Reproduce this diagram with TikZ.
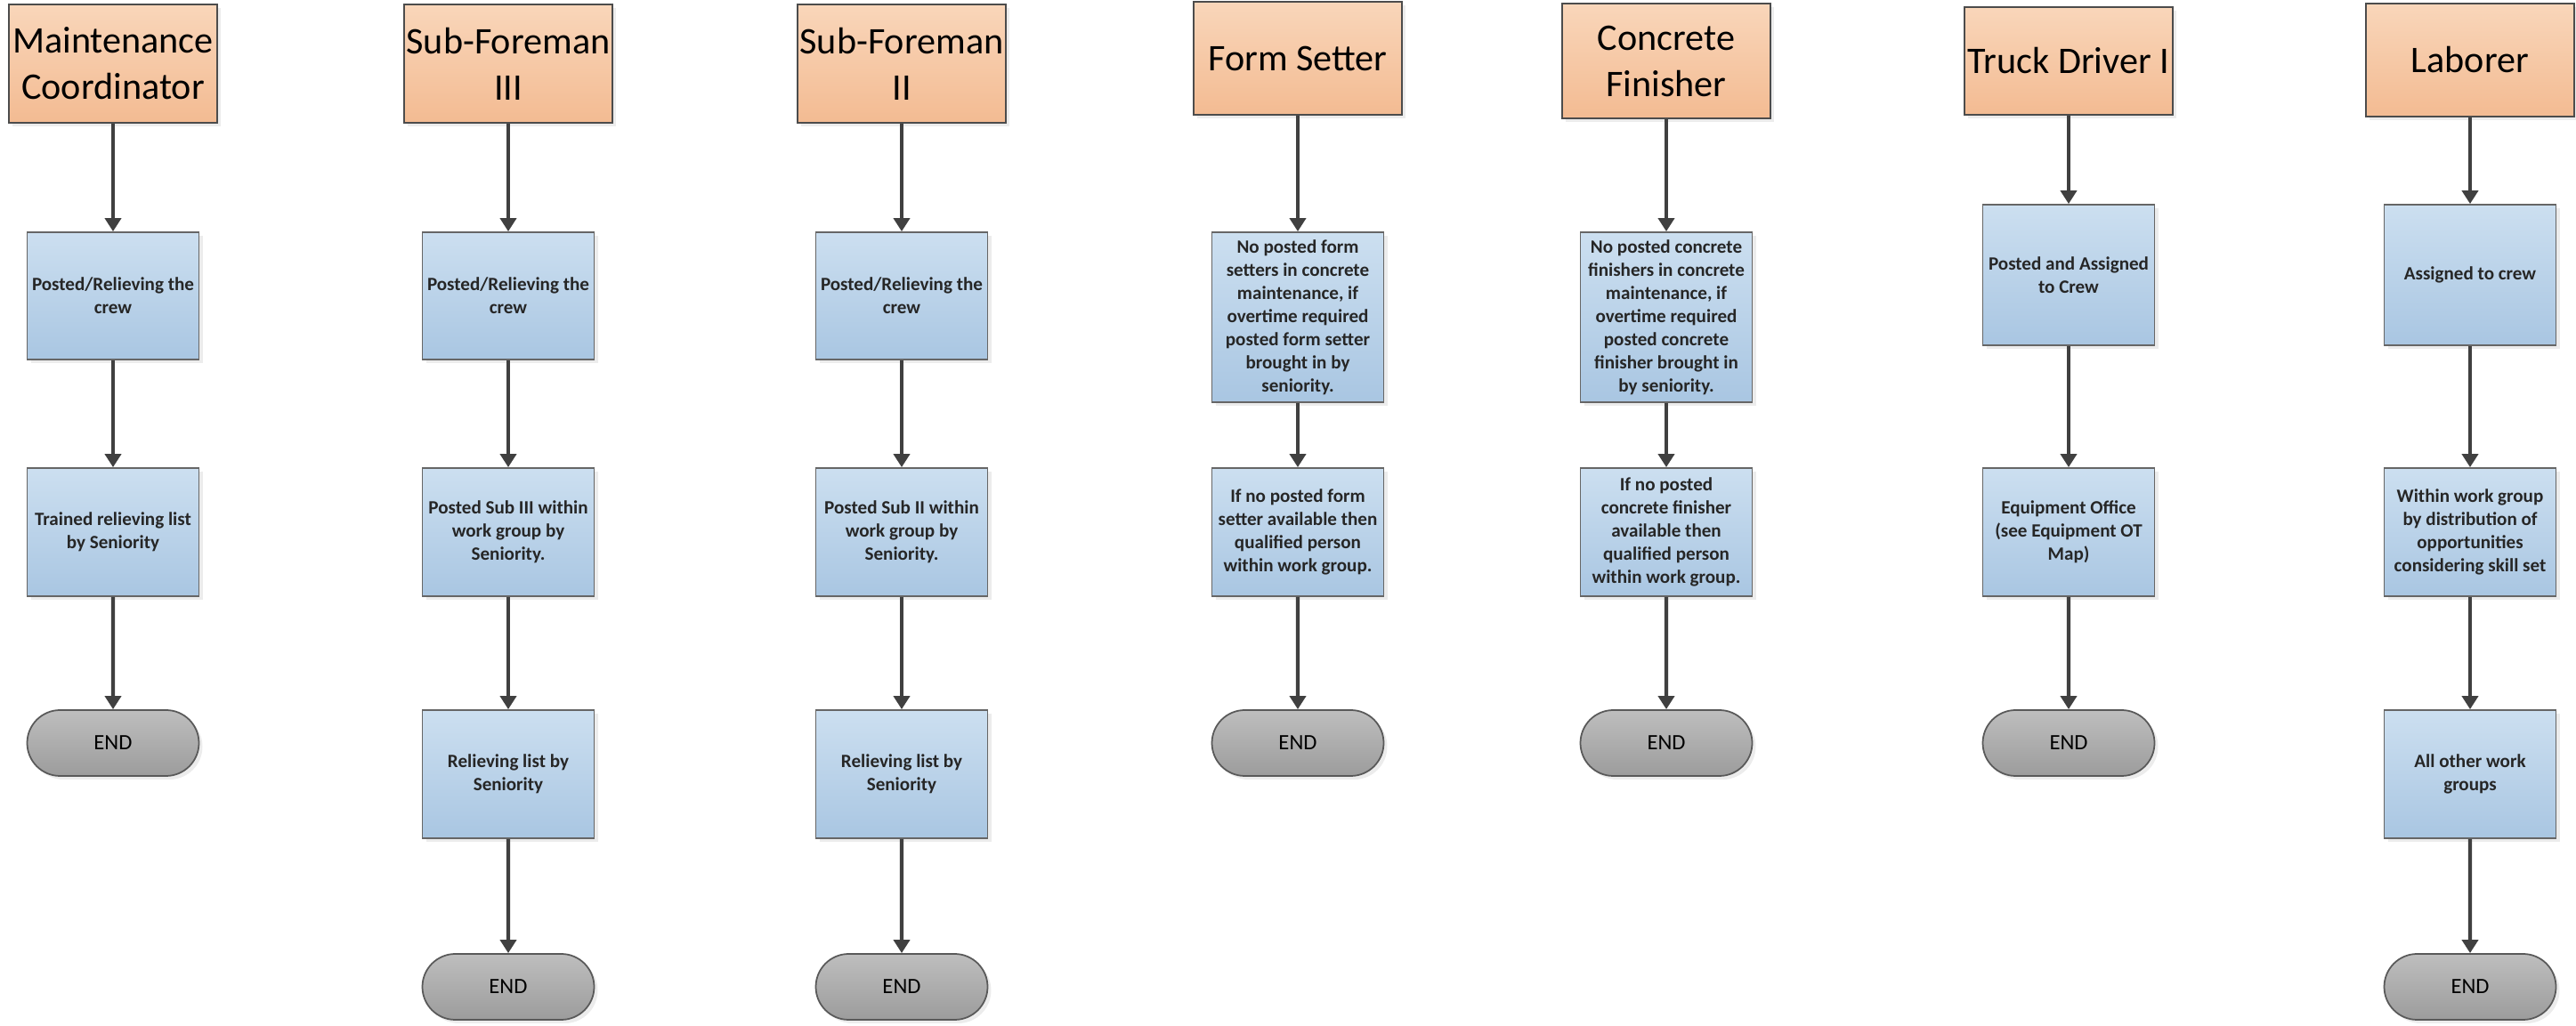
\documentclass[tikz,border=0pt]{standalone}
\usepackage{fontspec}
\setmainfont{Carlito}
\usepackage{tikz}
\usetikzlibrary{arrows.meta,shapes.misc,shadows}

\definecolor{headtop}{HTML}{F9D6BA}
\definecolor{headbot}{HTML}{F3BB92}
\definecolor{steptop}{HTML}{CCDFF0}
\definecolor{stepbot}{HTML}{A9C6E2}
\definecolor{endtop}{HTML}{BEBEBE}
\definecolor{endbot}{HTML}{9C9C9C}
\definecolor{linegray}{HTML}{404040}

\tikzset{
  head/.style={rectangle, draw=black!70, line width=0.5pt, top color=headtop, bottom color=headbot,
    minimum width=2.34cm, minimum height=1.33cm, inner sep=0pt, align=center,
    font=\fontsize{12}{14.8}\selectfont, drop shadow={shadow xshift=0.04cm, shadow yshift=-0.04cm, opacity=0.15}},
  stepbox/.style={rectangle, draw=black!60, line width=0.5pt, top color=steptop, bottom color=stepbot,
    minimum width=1.93cm, minimum height=1.43cm, inner sep=1pt, align=center, text=black!85,
    font=\bfseries\fontsize{6}{7.4}\selectfont, drop shadow={shadow xshift=0.04cm, shadow yshift=-0.04cm, opacity=0.15}},
  endbox/.style={rounded rectangle, draw=black!65, line width=0.5pt, top color=endtop, bottom color=endbot,
    minimum width=1.93cm, minimum height=0.74cm, inner sep=0pt, font=\fontsize{7}{8}\selectfont,
    drop shadow={shadow xshift=0.04cm, shadow yshift=-0.04cm, opacity=0.15}},
  connector/.style={-{Triangle[length=0.15cm,width=0.18cm]}, line width=1.25pt, draw=linegray},
}

\begin{document}
\begin{tikzpicture}
\useasboundingbox (0,0) rectangle (28.94,-11.53);

% Maintenance Coordinator
\node [head] (maint) at (1.27,-0.715) {Maintenance\\Coordinator};
\node [stepbox] (maintA) at (1.27,-3.325) {Posted/Relieving the\\crew};
\node [stepbox, minimum height=1.44cm] (maintB) at (1.27,-5.98) {Trained relieving list\\by Seniority};
\node [endbox] (maintEnd) at (1.27,-8.35) {END};

% Sub-Foreman III
\node [head] (subiii) at (5.71,-0.715) {Sub-Foreman\\III};
\node [stepbox] (subiiiA) at (5.71,-3.325) {Posted/Relieving the\\crew};
\node [stepbox, minimum height=1.44cm] (subiiiB) at (5.71,-5.98) {Posted Sub III within\\work group by\\Seniority.};
\node [stepbox, minimum height=1.44cm] (subiiiC) at (5.71,-8.70) {Relieving list by\\Seniority};
\node [endbox] (subiiiEnd) at (5.71,-11.09) {END};

% Sub-Foreman II
\node [head] (subii) at (10.13,-0.715) {Sub-Foreman\\II};
\node [stepbox] (subiiA) at (10.13,-3.325) {Posted/Relieving the\\crew};
\node [stepbox, minimum height=1.44cm] (subiiB) at (10.13,-5.98) {Posted Sub II within\\work group by\\Seniority.};
\node [stepbox, minimum height=1.44cm] (subiiC) at (10.13,-8.70) {Relieving list by\\Seniority};
\node [endbox] (subiiEnd) at (10.13,-11.09) {END};

% Form Setter
\node [head, minimum height=1.27cm] (form) at (14.58,-0.655) {Form Setter};
\node [stepbox, minimum height=1.91cm] (formA) at (14.58,-3.565) {No posted form\\setters in concrete\\maintenance, if\\overtime required\\posted form setter\\brought in by\\seniority.};
\node [stepbox, minimum height=1.44cm] (formB) at (14.58,-5.98) {If no posted form\\setter available then\\qualified person\\within work group.};
\node [endbox] (formEnd) at (14.58,-8.35) {END};

% Concrete Finisher
\node [head, minimum height=1.29cm] (conc) at (18.72,-0.685) {Concrete\\Finisher};
\node [stepbox, minimum height=1.91cm] (concA) at (18.72,-3.565) {No posted concrete\\finishers in concrete\\maintenance, if\\overtime required\\posted concrete\\finisher brought in\\by seniority.};
\node [stepbox, minimum height=1.44cm] (concB) at (18.72,-5.98) {If no posted\\concrete finisher\\available then\\qualified person\\within work group.};
\node [endbox] (concEnd) at (18.72,-8.35) {END};

% Truck Driver I
\node [head, minimum height=1.21cm] (truck) at (23.24,-0.685) {Truck Driver I};
\node [stepbox, minimum height=1.58cm] (truckA) at (23.24,-3.09) {Posted and Assigned\\to Crew};
\node [stepbox, minimum height=1.44cm] (truckB) at (23.24,-5.98) {Equipment Office\\(see Equipment OT\\Map)};
\node [endbox] (truckEnd) at (23.24,-8.35) {END};

% Laborer
\node [head, minimum height=1.27cm] (labor) at (27.75,-0.675) {Laborer};
\node [stepbox, minimum height=1.58cm] (laborA) at (27.75,-3.09) {Assigned to crew};
\node [stepbox, minimum height=1.44cm] (laborB) at (27.75,-5.98) {Within work group\\by distribution of\\opportunities\\considering skill set};
\node [stepbox, minimum height=1.44cm] (laborC) at (27.75,-8.70) {All other work\\groups};
\node [endbox] (laborEnd) at (27.75,-11.09) {END};

% % % % % % % % % % % % % % % % % % % % % % % % % %

\draw [connector] (maint) -- (maintA);
\draw [connector] (maintA) -- (maintB);
\draw [connector] (maintB) -- (maintEnd);

\draw [connector] (subiii) -- (subiiiA);
\draw [connector] (subiiiA) -- (subiiiB);
\draw [connector] (subiiiB) -- (subiiiC);
\draw [connector] (subiiiC) -- (subiiiEnd);

\draw [connector] (subii) -- (subiiA);
\draw [connector] (subiiA) -- (subiiB);
\draw [connector] (subiiB) -- (subiiC);
\draw [connector] (subiiC) -- (subiiEnd);

\draw [connector] (form) -- (formA);
\draw [connector] (formA) -- (formB);
\draw [connector] (formB) -- (formEnd);

\draw [connector] (conc) -- (concA);
\draw [connector] (concA) -- (concB);
\draw [connector] (concB) -- (concEnd);

\draw [connector] (truck) -- (truckA);
\draw [connector] (truckA) -- (truckB);
\draw [connector] (truckB) -- (truckEnd);

\draw [connector] (labor) -- (laborA);
\draw [connector] (laborA) -- (laborB);
\draw [connector] (laborB) -- (laborC);
\draw [connector] (laborC) -- (laborEnd);
\end{tikzpicture}
\end{document}
